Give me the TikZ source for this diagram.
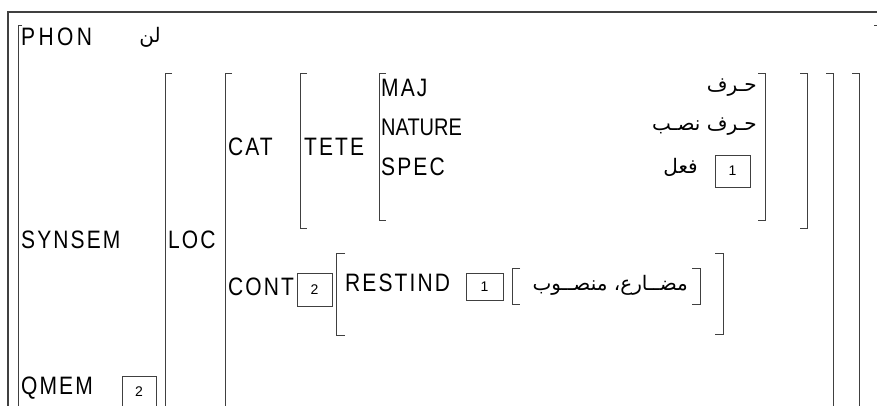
\documentclass[tikz,border=0pt]{standalone}
\usepackage{fontspec}
\setmainfont{Liberation Sans}
\newfontfamily\labfont[LetterSpace=10]{Liberation Sans}
\newfontfamily\widelab[LetterSpace=16]{Liberation Sans}
\newfontfamily\plainlab{Liberation Sans}
\newfontfamily\arabicfont[Script=Arabic]{DejaVu Sans}
\TeXXeTstate=1
\newcommand{\tallbox}[1]{\scalebox{1}[1.2]{#1}}
\tikzset{
  ln/.style={draw=black!75, line width=0.9pt},
  lab/.style={anchor=west, inner sep=0pt, font=\labfont\fontsize{21}{24}\selectfont},
  ar/.style={anchor=east, inner sep=0pt, font=\arabicfont\fontsize{20}{24}\selectfont},
  tag/.style={inner sep=0pt, font=\fontsize{14}{16}\selectfont},
  tagbox/.style={draw=black!75, line width=0.8pt}
}
\begin{document}
\begin{tikzpicture}[x=1pt,y=-1pt]
\useasboundingbox (0,0) rectangle (877,405);
\clip (0,0) rectangle (877,405);
% frame
\draw[ln, line width=1.1pt] (877,12) -- (8,12) -- (8,410);
% outer AVM
\draw[ln] (22,25) -- (18,25) -- (18,410);
\draw[ln] (874,25) -- (877,25);
\node[lab, font=\widelab\fontsize{21}{24}\selectfont] (phon) at (21,37) {\tallbox{PHON}};
\node[ar, anchor=center] (phonv) at (150,37) {\beginR لن\endR};
\node[lab] (synsem) at (21,240) {\tallbox{SYNSEM}};
\node[lab] (qmem) at (21,388) {\tallbox{QMEM}};
\draw[tagbox] (122,376) rectangle (156,412);
\node[tag] (q2) at (139,392) {2};
% SYNSEM value
\draw[ln] (172,73) -- (165,73) -- (165,410);
\draw[ln] (852,73) -- (859,73) -- (859,410);
\node[lab] (loc) at (168,240) {\tallbox{LOC}};
% LOC value
\draw[ln] (232,73) -- (225,73) -- (225,410);
\draw[ln] (826,73) -- (833,73) -- (833,410);
\node[lab] (cat) at (228,147) {\tallbox{CAT}};
% CAT value
\draw[ln] (307,73) -- (300,73) -- (300,228) -- (307,228);
\draw[ln] (800,73) -- (807,73) -- (807,228) -- (800,228);
\node[lab] (tete) at (304,147) {\tallbox{TETE}};
% TETE value
\draw[ln] (386,73) -- (379,73) -- (379,220) -- (386,220);
\draw[ln] (758,73) -- (765,73) -- (765,220) -- (758,220);
\node[lab] (maj) at (381,88) {\tallbox{MAJ}};
\node[lab, font=\plainlab\fontsize{20}{24}\selectfont] (nature) at (381,127) {\tallbox{NATURE}};
\node[lab] (spec) at (381,167) {\tallbox{SPEC}};
\node[ar] (majv) at (757,88) {\beginR حـرف\endR};
\node[ar] (natv) at (757,127) {\beginR حـرف نصـب\endR};
\draw[tagbox] (715,155) rectangle (750,187);
\node[tag] (s1) at (732.5,171) {1};
\node[ar] (specv) at (698,167) {\beginR فعل\endR};
% CONT
\node[lab] (cont) at (228,287) {\tallbox{CONT}};
\draw[tagbox] (297,273) rectangle (332,306);
\node[tag] (c2) at (314.5,290) {2};
\draw[ln] (345,253) -- (336,253) -- (336,335) -- (345,335);
\draw[ln] (715,253) -- (723,253) -- (723,334) -- (715,334);
\node[lab] (restind) at (345,283) {\tallbox{RESTIND}};
\draw[tagbox] (466,273) rectangle (503,300);
\node[tag] (r1) at (484.5,286.5) {1};
\draw[ln] (520,268) -- (512,268) -- (512,304) -- (520,304);
\draw[ln] (692,268) -- (700,268) -- (700,304) -- (692,304);
\node[ar] (restv) at (688,285) {\beginR مضــارع، منصــوب\endR};
\end{tikzpicture}
\end{document}
